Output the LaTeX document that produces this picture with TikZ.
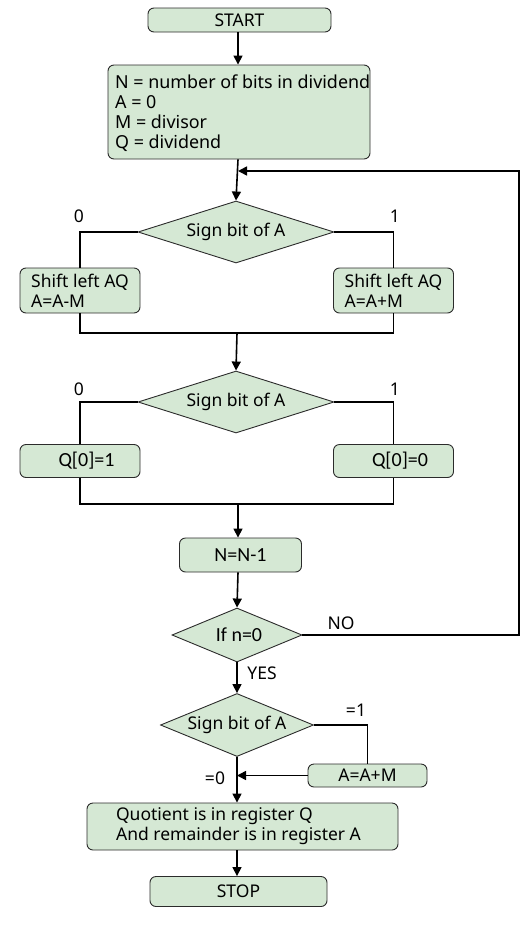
\documentclass[tikz,border=0pt]{standalone}
\usepackage{fontspec}
\setmainfont{Noto Sans}
\newfontfamily\calib{Carlito}
\usetikzlibrary{shapes.geometric,arrows.meta}
\definecolor{boxgreen}{HTML}{D5E8D4}
\definecolor{edge}{HTML}{2B2B2B}
\tikzset{
  box/.style={draw=edge, fill=boxgreen, rounded corners=6pt, line width=0.9pt, inner sep=0pt, font=\fontsize{17.5}{20}\selectfont},
  cbox/.style={box, font=\calib\fontsize{20}{22}\selectfont},
  dia/.style={draw=edge, fill=boxgreen, diamond, aspect=3, inner sep=0pt, line width=0.9pt, font=\fontsize{17.5}{20}\selectfont},
  lbl/.style={inner sep=0pt, font=\fontsize{17.5}{20}\selectfont},
  conn/.style={line width=1.6pt, draw=black},
  arr/.style={conn, -{Triangle[length=9pt,width=9pt]}}
}
\begin{document}
\begin{tikzpicture}[x=1pt,y=-1pt]
\useasboundingbox (0,0) rectangle (529,929);
% nodes
\node[box, minimum width=183, minimum height=24] (start) at (239.5,20) {START};
\node[box, minimum width=262, minimum height=94] (init) at (239,112) {};
\node[lbl, anchor=west, align=left, font=\fontsize{17.9}{20}\selectfont] (initt) at (115,113) {N = number of bits in dividend\\A = 0\\M = divisor\\Q = dividend};
\coordinate (m1) at (238,171);
\node[dia, minimum width=196, minimum height=62] (d1) at (236,232) {Sign bit of A};
\node[box, minimum width=120, minimum height=45, align=left] (l1) at (80,290.5) {Shift left AQ\\A=A-M};
\node[box, minimum width=120, minimum height=45, align=left] (r1) at (393.5,290.5) {Shift left AQ\\A=A+M};
\node[lbl] (z1) at (79,216) {0};
\node[lbl] (o1) at (395,216) {1};
\coordinate (j1) at (237,333);
\node[dia, minimum width=196, minimum height=62] (d2) at (236,402) {Sign bit of A};
\node[lbl] (z2) at (79,389) {0};
\node[lbl] (o2) at (395,389) {1};
\node[cbox, minimum width=120, minimum height=33] (q1) at (80,461) {\hspace*{13pt}Q[0]=1};
\node[cbox, minimum width=120, minimum height=33] (q0) at (393.5,461) {\hspace*{13pt}Q[0]=0};
\coordinate (j2) at (238,504);
\node[cbox, minimum width=122, minimum height=34] (dec) at (240.5,555) {N=N-1};
\node[dia, font=\calib\fontsize{20}{22}\selectfont, minimum width=130, minimum height=54] (d3) at (237,635) {\hspace*{4pt}If n=0};
\coordinate (rc) at (519,635);
\node[lbl] (no) at (341,623) {NO};
\node[lbl] (yes) at (262,673) {YES};
\node[dia, minimum width=153, minimum height=63] (d4) at (237,725) {Sign bit of A};
\node[lbl] (e1) at (356,710) {=1};
\node[box, minimum width=119, minimum height=23] (add) at (367.5,775.5) {A=A+M};
\node[lbl] (e0) at (215,778) {=0};
\node[box, minimum width=311, minimum height=47, align=left] (res) at (242.5,826.5) {Quotient is in register Q\\And remainder is in register A\hspace*{8pt}};
\node[box, minimum width=177, minimum height=30] (stop) at (238.5,891.5) {STOP};
% connectors
\draw[arr] (start.south -| m1) -- (m1 |- init.north);
\draw[arr] (init.south -| m1) -- (d1.north);
\draw[arr] (d3.east) -- (rc) |- (m1);
\draw[conn] (d1.west) -| (l1.north);
\draw[conn] (d1.east) -| (r1.north);
\draw[conn] (l1.south) |- (j1) -| (r1.south);
\draw[arr] (j1) -- (d2.north);
\draw[conn] (d2.west) -| (q1.north);
\draw[conn] (d2.east) -| (q0.north);
\draw[conn] (q1.south) |- (j2) -| (q0.south);
\draw[arr] (j2) -- (j2 |- dec.north);
\draw[arr] (dec.south -| j2) -- (d3.north);
\draw[arr] (d3.south) -- (d4.north);
\draw[conn] (d4.east) -| (add.north);
\draw[arr] (add.west) -- (add.west -| d4.south);
\draw[arr] (d4.south) -- (d4.south |- res.north);
\draw[arr] (res.south -| d4.south) -- (d4.south |- stop.north);
\end{tikzpicture}
\end{document}
